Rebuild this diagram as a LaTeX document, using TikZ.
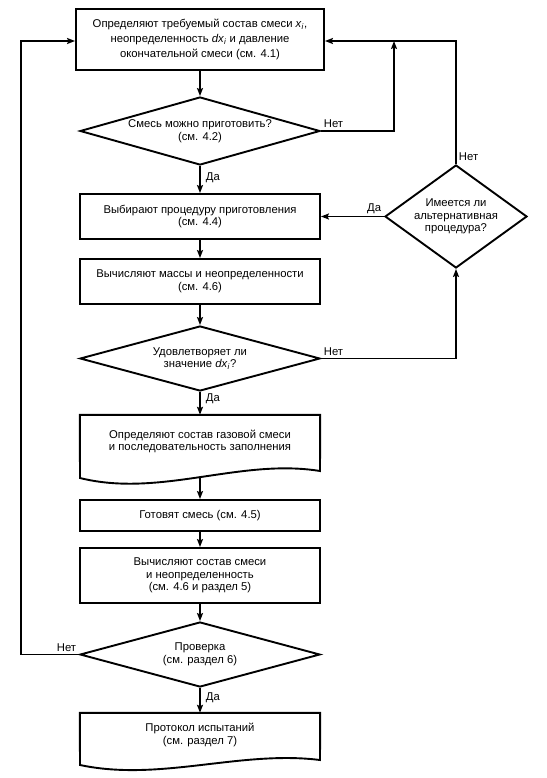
\documentclass[tikz,border=0pt]{standalone}
\usepackage{fontspec}
\setmainfont{Liberation Sans}
\usetikzlibrary{arrows.meta,shapes.geometric}

\begin{document}
\begin{tikzpicture}[x=1pt, y=-1pt,
	txt/.style={font=\fontsize{11.3}{12.5}\selectfont, align=center, inner sep=0pt},
	box/.style={txt, rectangle, draw, line width=1.9pt, minimum width=240pt},
	decision/.style={txt, diamond, draw, line width=1.9pt, aspect=3.5, minimum width=240pt, minimum height=65pt},
	doc/.style={txt, rectangle, minimum width=240pt},
	arr/.style={line width=1.9pt, -{Stealth[length=8pt, width=6pt, inset=1.5pt]}},
	lbl/.style={font=\fontsize{11.3}{12.5}\selectfont, inner sep=2pt}]

	\useasboundingbox (0,0) rectangle (546,778);

	\node[box, minimum width=248pt, minimum height=61pt, font=\fontsize{11.3}{15}\selectfont] (1) at (200,39.5) {Определяют требуемый состав смеси \textit{x}\textsubscript{\textit{i}},\\неопределенность \textit{dx}\textsubscript{\textit{i}} и давление\\окончательной смеси (см. 4.1)};
	\node[decision, minimum height=68pt] (2) at (200,131) {Смесь можно приготовить?\\(см. 4.2)};
	\node[box, minimum height=45pt] (3) at (200,216.5) {Выбирают процедуру приготовления\\(см. 4.4)};
	\node[decision, aspect=1.4, minimum width=142pt, minimum height=103pt] (4) at (456,216.5) {Имеется ли\\альтернативная\\процедура?};
	\node[box, minimum height=45pt] (5) at (200,281.5) {Вычисляют массы и неопределенности\\(см. 4.6)};
	\node[decision] (6) at (200,358.5) {Удовлетворяет ли\\значение \textit{dx}\textsubscript{\textit{i}}?};
	\node[doc, minimum height=53pt] (7) at (200,441.5) {Определяют состав газовой смеси\\и последовательность заполнения};
	\node[box, minimum height=31pt] (8) at (200,515.5) {Готовят смесь (см. 4.5)};
	\node[box, minimum height=55pt] (9) at (200,575.5) {Вычисляют состав смеси\\и неопределенность\\(см. 4.6 и раздел 5)};
	\node[decision] (10) at (200,654.5) {Проверка\\(см. раздел 6)};
	\node[doc, minimum height=44pt] (11) at (200,735) {Протокол испытаний\\(см. раздел 7)};

	\draw[line width=1.9pt] (7.north west) -- (7.north east) -- (320,471) .. controls (240,458) and (160,498) .. (80,478) -- cycle;
	\draw[line width=1.9pt] (11.north west) -- (11.north east) -- (320,760) .. controls (240,750) and (160,782) .. (80,765) -- cycle;

	\coordinate (7b) at (200,477);
	\coordinate (r1) at (394,41);
	\coordinate (r2) at (456,41);
	\coordinate (l1) at (21,41);

	\draw[arr] (1) -- (2);
	\draw[arr] (2) -- node[lbl, right=3pt, pos=0.45] (d1) {Да} (3);
	\draw[arr] (3) -- (5);
	\draw[arr] (5) -- (6);
	\draw[arr] (6) -- node[lbl, right=3pt, pos=0.3] (d3) {Да} (7);
	\draw[arr] (7b) -- (8);
	\draw[arr] (8) -- (9);
	\draw[arr] (9) -- (10);
	\draw[arr] (10) -- node[lbl, right=3pt, pos=0.38] (d4) {Да} (11);
	\draw[arr] (4.west) -- node[lbl, pos=0, anchor=south east] (d2) {Да} (3.east |- 4.west);
	\draw[arr] (2.east) -- node[lbl, pos=0, anchor=south west] (n1) {Нет} (2.east -| r1) -- (r1);
	\draw[arr] (4.north) -- node[lbl, pos=0, anchor=south west] (n2) {Нет} (r2) -- (r2 -| 1.east);
	\draw[arr] (6.east) -- node[lbl, pos=0, anchor=south west] (n3) {Нет} (6.east -| 4.south) -- (4.south);
	\draw[arr] (10.west) -- node[lbl, pos=0, anchor=south east] (n4) {Нет} (10.west -| l1) -- (l1) -- (l1 -| 1.west);

\end{tikzpicture}
\end{document}
